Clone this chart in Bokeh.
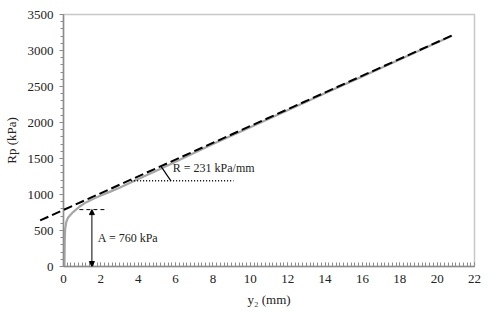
from bokeh.plotting import figure
from bokeh.models import Range1d, Arrow, NormalHead, Label, FixedTicker
from bokeh.embed import file_html
from bokeh.resources import INLINE

# measured curve (gray)
meas_x = [0.05, 0.06, 0.07, 0.09, 0.15, 0.25, 0.5, 0.85, 1.2, 1.6, 2.0, 2.5, 3.0,
          4.0, 5.0, 6.0, 8.0, 10.0, 12.0, 14.0, 16.0, 18.0, 20.0, 20.8]
meas_rp = [0, 200, 400, 520, 620, 682, 752, 830, 890, 940, 985, 1040, 1095,
           1215, 1335, 1455, 1700, 1935, 2170, 2405, 2640, 2875, 3110, 3205]

# linear fit (black dashed)
fit_x = [-1.25, 20.85]
fit_rp = [640, 3215]

# annotation values
A_level = 790
A_x = 1.52
A_dash_x = [0.85, 2.2]
R_level = 1190
R_dot_x = [3.62, 9.1]
R_tick_x = [5.22, 5.75]
R_tick_rp = [1390, 1190]
A_text = "A = 760 kPa"
R_text = "R = 231 kPa/mm"

x_ticks = list(range(0, 23, 2))
y_ticks = list(range(0, 3501, 500))

FONT = "'Liberation Serif', 'Times New Roman', serif"

p = figure(width=493, height=313, output_backend="svg", toolbar_location=None,
           x_range=Range1d(0, 22), y_range=Range1d(0, 3500),
           min_border_left=62, min_border_right=19, min_border_top=14,
           min_border_bottom=47)
p.background_fill_color = "white"
p.border_fill_color = "white"
p.outline_line_color = "#c8c8c8"
p.outline_line_width = 1.5
p.xgrid.visible = False
p.ygrid.visible = False

for ax in (p.xaxis[0], p.yaxis[0]):
    ax.axis_line_color = "#8c8c8c"
    ax.axis_line_width = 1.5
    ax.major_tick_line_color = "#8c8c8c"
    ax.minor_tick_line_color = "#8c8c8c"
    ax.major_label_text_font = FONT
    ax.major_label_text_font_size = "13px"
    ax.major_label_text_color = "#222222"
    ax.axis_label_text_font = FONT
    ax.axis_label_text_font_size = "13px"
    ax.axis_label_text_font_style = "normal"
    ax.axis_label_text_color = "#222222"

p.xaxis.ticker = FixedTicker(ticks=x_ticks,
                             minor_ticks=[i * 0.2 for i in range(0, 111)])
p.xaxis.major_tick_in = 4
p.xaxis.major_tick_out = 0
p.xaxis.minor_tick_in = 4
p.xaxis.minor_tick_out = 0
p.xaxis.major_label_standoff = 8
p.xaxis.axis_label = "y₂ (mm)"
p.xaxis.axis_label_standoff = 6

p.yaxis.ticker = FixedTicker(ticks=y_ticks,
                             minor_ticks=list(range(0, 3501, 100)))
p.yaxis.major_tick_in = 0
p.yaxis.major_tick_out = 4
p.yaxis.minor_tick_in = 0
p.yaxis.minor_tick_out = 3
p.yaxis.major_label_standoff = 6
p.yaxis.axis_label = "Rp (kPa)"
p.yaxis.axis_label_standoff = 6

# measured curve
p.line(meas_x, meas_rp, line_color="#a6a6a6", line_width=2.2)

# fit line, drawn at overlay level so it may extend past the y axis
p.line(fit_x, fit_rp, line_color="black", line_width=2, line_dash="9 4",
       level="overlay")

# A annotation
p.line(A_dash_x, [A_level, A_level], line_color="black", line_width=1,
       line_dash="4 3")
p.add_layout(Arrow(start=NormalHead(size=5, fill_color="black", line_color="black"),
                   end=NormalHead(size=5, fill_color="black", line_color="black"),
                   x_start=A_x, y_start=0, x_end=A_x, y_end=A_level,
                   line_color="black", line_width=1))
p.add_layout(Label(x=1.84, y=400, text=A_text, text_font=FONT,
                   text_font_size="12px", text_baseline="middle",
                   text_color="#222222"))

# R annotation
p.line(R_dot_x, [R_level, R_level], line_color="black", line_width=1.5,
       line_dash="1 2")
p.line(R_tick_x, R_tick_rp, line_color="black", line_width=1.2)
p.add_layout(Label(x=5.85, y=1368, text=R_text, text_font=FONT,
                   text_font_size="12px", text_baseline="middle",
                   text_color="#222222"))

open("out.html", "w").write(file_html(p, INLINE))
